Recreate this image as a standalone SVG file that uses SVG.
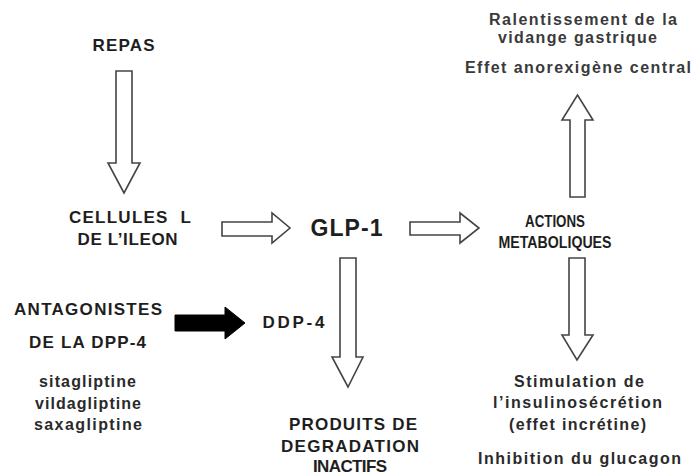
<svg xmlns="http://www.w3.org/2000/svg" width="693" height="476" viewBox="0 0 693 476">
<style>
text{font-family:"Liberation Sans",Arial,sans-serif;fill:#1e1e1e;text-anchor:middle}
.b{font-weight:bold;font-size:17px}
.m{font-weight:bold;font-size:16px}
.g{font-weight:bold;font-size:23px}
.n{font-size:16px;fill:#2a2a2a;font-weight:bold}
.t{font-size:16px;fill:#3a3a3a;font-weight:bold}
.arr{fill:#fff;stroke:#444;stroke-width:1.6;stroke-linejoin:miter}
.blk{fill:#000;stroke:#000;stroke-width:1}
</style>
<rect width="693" height="476" fill="#fff"/>
<g id="connectors">
<path class="arr" d="M116,71 H132 V163 H140 L124,193 L108,163 H116 Z"/>
<path class="arr" d="M222,222 H272 V213 L290,228 L272,243 V236 H222 Z"/>
<path class="arr" d="M410,222 H460 V213 L479,228 L460,243 V235 H410 Z"/>
<path class="arr" d="M570,197 H585 V120 H593 L577.5,95 L562,120 H570 Z"/>
<path class="arr" d="M340,258 H356 V357 H363 L348,387 L332,357 H340 Z"/>
<path class="arr" d="M569,258 H585 V335 H593 L577,360 L562,335 H569 Z"/>
<path class="blk" d="M175,315 H225 V307 L245,323 L225,339 V331 H175 Z"/>
</g>
<g id="repas"><text class="b" x="123.5" y="51" textLength="62" lengthAdjust="spacing">REPAS</text></g>
<g id="cellules">
<text class="b" x="130" y="223" textLength="122" lengthAdjust="spacing" xml:space="preserve">CELLULES  L</text>
<text class="b" x="127.5" y="245" textLength="100" lengthAdjust="spacing">DE L’ILEON</text>
</g>
<g id="glp1"><text class="g" x="346.5" y="236" textLength="72" lengthAdjust="spacing">GLP-1</text></g>
<g id="actions">
<text class="m" x="555" y="227" textLength="60" lengthAdjust="spacingAndGlyphs">ACTIONS</text>
<text class="m" x="555" y="248" textLength="113" lengthAdjust="spacingAndGlyphs">METABOLIQUES</text>
</g>
<g id="effets-haut">
<text class="t" x="583" y="25" textLength="188" lengthAdjust="spacing">Ralentissement de la</text>
<text class="t" x="577.5" y="43" textLength="159" lengthAdjust="spacing">vidange gastrique</text>
<text class="t" x="578" y="73" textLength="226" lengthAdjust="spacing">Effet anorexigène central</text>
</g>
<g id="antagonistes">
<text class="b" x="88" y="315" textLength="148" lengthAdjust="spacing">ANTAGONISTES</text>
<text class="b" x="87.5" y="348" textLength="117" lengthAdjust="spacing">DE LA DPP-4</text>
<text class="n" x="87.5" y="387" textLength="97" lengthAdjust="spacing">sitagliptine</text>
<text class="n" x="88" y="409" textLength="106" lengthAdjust="spacing">vildagliptine</text>
<text class="n" x="88" y="430" textLength="108" lengthAdjust="spacing">saxagliptine</text>
</g>
<g id="ddp4"><text class="b" x="293.5" y="328" textLength="62" lengthAdjust="spacing">DDP-4</text></g>
<g id="produits">
<text class="b" x="353" y="430" textLength="128" lengthAdjust="spacing">PRODUITS DE</text>
<text class="b" x="350" y="452" textLength="138" lengthAdjust="spacing">DEGRADATION</text>
<text class="b" x="350" y="472" textLength="74" lengthAdjust="spacing">INACTIFS</text>
</g>
<g id="effets-bas">
<text class="n" x="579" y="387" textLength="130" lengthAdjust="spacing">Stimulation de</text>
<text class="n" x="577.5" y="408" textLength="169" lengthAdjust="spacing">l’insulinosécrétion</text>
<text class="n" x="577.5" y="430" textLength="137" lengthAdjust="spacing">(effet incrétine)</text>
<text class="n" x="579.5" y="464" textLength="203" lengthAdjust="spacing">Inhibition du glucagon</text>
</g>
</svg>
